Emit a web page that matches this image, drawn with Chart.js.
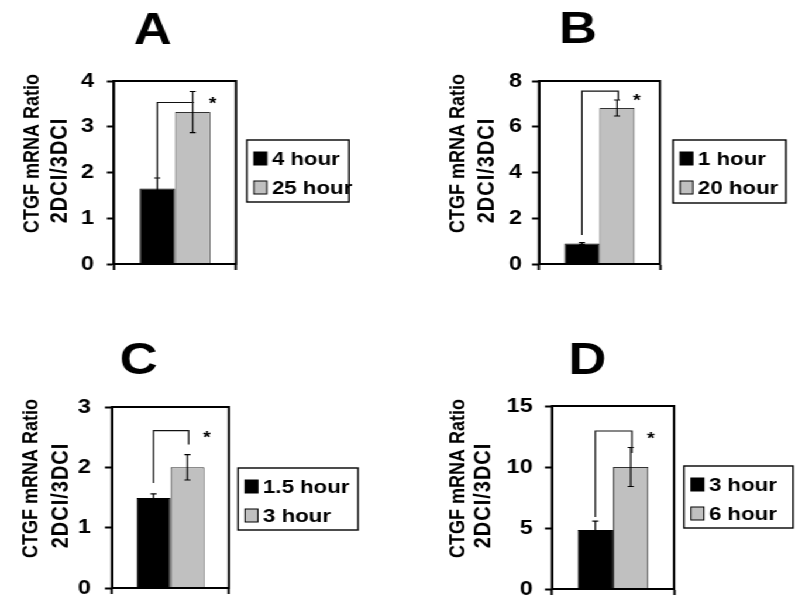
<!DOCTYPE html>
<html>
<head>
<meta charset="utf-8">
<script src="https://cdn.jsdelivr.net/npm/chart.js@4.4.1/dist/chart.umd.min.js"></script>
<style>
  html, body { margin: 0; padding: 0; background: #fff; }
  /* the original figure is stretched sideways, so the whole page is too */
  #page { position: relative; width: 684px; height: 612px; transform: scaleX(1.17); transform-origin: 0 0; }
  #page canvas { position: absolute; }
</style>
</head>
<body>
<div id="page">
  <canvas id="panelA" width="342" height="306" style="left:0;top:0"></canvas>
  <canvas id="panelB" width="342" height="306" style="left:342px;top:0"></canvas>
  <canvas id="panelC" width="342" height="306" style="left:0;top:306px"></canvas>
  <canvas id="panelD" width="342" height="306" style="left:342px;top:306px"></canvas>
</div>
<script>
// --- data, one entry per panel A..D ---
const panelLetters = ['A', 'B', 'C', 'D'];
const yTitleLines = ['CTGF mRNA Ratio', '2DCI/3DCI'];
const earlyLabels = ['4 hour', '1 hour', '1.5 hour', '3 hour'];
const lateLabels = ['25 hour', '20 hour', '3 hour', '6 hour'];
const earlyValues = [1.65, 0.90, 1.49, 4.84];
const earlyErrors = [0.23, 0.04, 0.07, 0.73];
const lateValues = [3.32, 6.82, 2.00, 10.0];
const lateErrors = [0.45, 0.35, 0.21, 1.60];
const yTicks = [[0, 1, 2, 3, 4], [0, 2, 4, 6, 8], [0, 1, 2, 3], [0, 5, 10, 15]];
// significance bracket (axis units): left foot, top, right foot, and the asterisk
const bracketLeft = [1.87, 1.27, 1.74, 5.9];
const bracketTop = [3.53, 7.56, 2.61, 12.95];
const bracketRight = [3.53, 7.17, 2.38, 11.15];
const starY = [3.58, 7.3, 2.55, 12.6];

// --- placement inside each canvas (pixels) ---
const panelLayout = [
  { area: [97.4, 81, 201.7, 264], tickPad: 11, letter: [33, 49.5], yTitle: [69.6, 46], legend: [211, 140, 87.3, 62] },
  { area: [118.7, 81, 222.1, 264], tickPad: 8.5, letter: [33.3, 50], yTitle: [68.4, 44], legend: [233.2, 140, 96.6, 63] },
  { area: [95.7, 101, 195.7, 286], tickPad: 12, letter: [22.7, 45.3], yTitle: [68.6, 43.7], legend: [203.4, 162, 102.6, 62] },
  { area: [129.8, 100, 234.1, 283], tickPad: 10.5, letter: [30.3, 44.3], yTitle: [80, 58.5], legend: [242.6, 160, 93.2, 62] }
];

const FONT = '"Liberation Sans", Arial, Helvetica, sans-serif';

// error bars, bracket, frame, legend and labels
const panelDecor = {
  id: 'panelDecor',
  afterDatasetsDraw(chart, args, opts) {
    const i = opts.index;
    const { ctx, chartArea: a, scales: { y } } = chart;
    ctx.save();
    ctx.strokeStyle = '#000';
    ctx.lineWidth = 2;
    ctx.strokeRect(a.left, a.top, a.right - a.left, a.bottom - a.top);

    const bars = [];
    [[earlyValues, earlyErrors], [lateValues, lateErrors]].forEach(([vals, errs], d) => {
      const bar = chart.getDatasetMeta(d).data[0];
      bars.push(bar);
      const hi = y.getPixelForValue(vals[i] + errs[i]);
      const lo = y.getPixelForValue(vals[i] - errs[i]);
      ctx.strokeStyle = '#000';
      ctx.lineWidth = 1.2;
      ctx.beginPath();
      ctx.moveTo(bar.x, hi); ctx.lineTo(bar.x, lo);
      ctx.moveTo(bar.x - 2.6, hi); ctx.lineTo(bar.x + 2.6, hi);
      ctx.moveTo(bar.x - 2.6, lo); ctx.lineTo(bar.x + 2.6, lo);
      ctx.stroke();
    });

    const [b0, b1] = bars;
    const topPx = y.getPixelForValue(bracketTop[i]);
    ctx.strokeStyle = '#111';
    ctx.beginPath();
    ctx.moveTo(b0.x, y.getPixelForValue(bracketLeft[i]));
    ctx.lineTo(b0.x, topPx);
    ctx.lineTo(b1.x + 1, topPx);
    ctx.lineTo(b1.x + 1, y.getPixelForValue(bracketRight[i]));
    ctx.stroke();

    ctx.fillStyle = '#000';
    ctx.font = 'bold 17px ' + FONT;
    ctx.textAlign = 'center';
    ctx.textBaseline = 'middle';
    ctx.fillText('*', b1.x + b1.width / 2 + 2, y.getPixelForValue(starY[i]) + 4);
    ctx.restore();
  },
  afterDraw(chart, args, opts) {
    const i = opts.index;
    const L = panelLayout[i];
    const { ctx, chartArea: a } = chart;
    const midY = (a.top + a.bottom) / 2;
    ctx.save();
    ctx.fillStyle = '#000';
    ctx.textBaseline = 'middle';

    // panel letter
    ctx.textAlign = 'center';
    ctx.font = 'bold 45px ' + FONT;
    ctx.fillText(panelLetters[i], a.left + L.letter[0], a.top - L.letter[1]);

    // rotated y-axis title, two lines
    const lineDy = [-19, -2];
    const lineFont = ['bold 18px ', 'bold 20px '];
    const lineGap = ['0px', '1px'];
    yTitleLines.forEach((txt, k) => {
      ctx.save();
      ctx.translate(a.left - L.yTitle[k], midY + lineDy[k]);
      ctx.rotate(-Math.PI / 2);
      ctx.font = lineFont[k] + FONT;
      ctx.letterSpacing = lineGap[k];
      ctx.textAlign = 'center';
      ctx.fillText(txt, 0, 0);
      ctx.restore();
    });

    // legend box
    const [lx, ly, lw, lh] = L.legend;
    ctx.letterSpacing = '0px';
    ctx.strokeStyle = '#000';
    ctx.lineWidth = 1.4;
    ctx.strokeRect(lx, ly, lw, lh);
    ctx.textAlign = 'left';
    ctx.font = 'bold 19px ' + FONT;
    chart.data.datasets.forEach((ds, d) => {
      const cy = ly + [18.5, 47.5][d];
      ctx.fillStyle = ds.backgroundColor;
      ctx.fillRect(lx + 6, cy - 6.5, 11, 13);
      ctx.lineWidth = 1;
      ctx.strokeRect(lx + 6, cy - 6.5, 11, 13);
      ctx.fillStyle = '#000';
      ctx.fillText(ds.label, lx + 21.4, cy + 1);
    });
    ctx.restore();
  }
};

document.addEventListener('DOMContentLoaded', function() {
  ['panelA', 'panelB', 'panelC', 'panelD'].forEach(function(id, i) {
    const L = panelLayout[i];
    const canvas = document.getElementById(id);
    const ticks = yTicks[i];
    new Chart(canvas, {
      type: 'bar',
      data: {
        labels: [''],
        datasets: [{
          label: earlyLabels[i],
          data: [earlyValues[i]],
          backgroundColor: '#000000',
          borderColor: '#000000',
          borderWidth: 1,
          categoryPercentage: 0.58,
          barPercentage: 1
        }, {
          label: lateLabels[i],
          data: [lateValues[i]],
          backgroundColor: '#c0c0c0',
          borderColor: '#333333',
          borderWidth: 1,
          categoryPercentage: 0.58,
          barPercentage: 1
        }]
      },
      options: {
        responsive: false,
        animation: false,
        devicePixelRatio: 1,
        layout: {
          padding: { left: 0, top: L.area[1], right: canvas.width - L.area[2], bottom: canvas.height - L.area[3] - 7 }
        },
        scales: {
          x: {
            grid: { offset: true, drawOnChartArea: false, tickLength: 6, tickColor: '#000', tickWidth: 2 },
            border: { color: '#000', width: 2 },
            ticks: { display: false },
            afterFit: function(s) { s.height = 7; }
          },
          y: {
            min: ticks[0],
            max: ticks[ticks.length - 1],
            afterBuildTicks: function(s) { s.ticks = ticks.map(v => ({ value: v })); },
            afterFit: function(s) { s.width = L.area[0]; },
            grid: { drawOnChartArea: false, tickLength: 6, tickColor: '#000', tickWidth: 2 },
            border: { color: '#000', width: 2 },
            ticks: { color: '#000', padding: L.tickPad, font: { size: 20, weight: 'bold', family: FONT } }
          }
        },
        plugins: {
          legend: { display: false },
          title: { display: false },
          tooltip: { enabled: false },
          panelDecor: { index: i }
        }
      },
      plugins: [panelDecor]
    });
  });
});
</script>
</body>
</html>
